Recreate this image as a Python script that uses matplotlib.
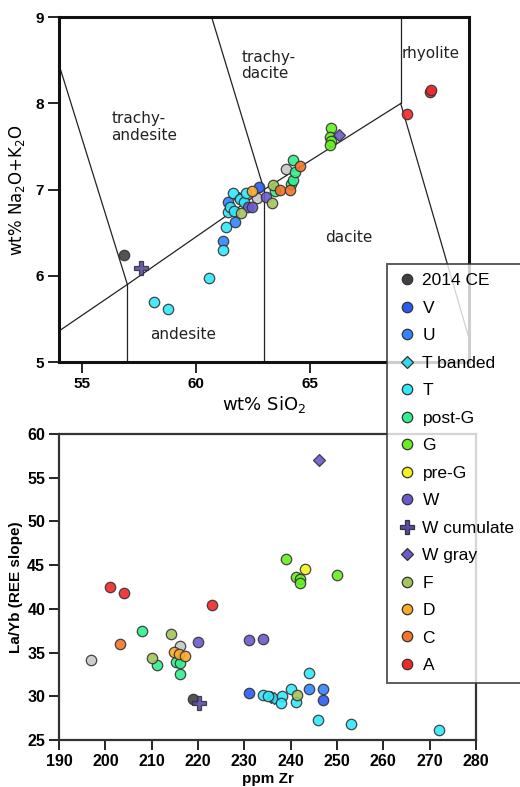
import matplotlib
matplotlib.use("Agg")
import matplotlib.pyplot as plt
from matplotlib.lines import Line2D

# groups, in legend order
groups = ["2014 CE", "V", "U", "T banded", "T", "post-G", "G", "pre-G",
          "W", "W cumulate", "W gray", "F", "D", "C", "A"]
colors = ["#404040", "#2a5cf5", "#3384ff", "#33d8f0", "#33e8fa", "#33ee8c",
          "#66ee22", "#f2f222", "#6a5acd", "#5a4aa8", "#6a5acd", "#a4c45c",
          "#fbaa2c", "#f3742a", "#f02828"]
markers = ["o", "o", "o", "D", "o", "o", "o", "o", "o", "P", "D", "o", "o", "o", "o"]

# TAS diagram: wt% SiO2 and wt% Na2O+K2O
sio2 = {
    "2014 CE": [56.85],
    "V": [62.8],
    "U": [61.2, 61.43, 61.72],
    "T banded": [61.9],
    "T": [58.17, 58.8, 60.6, 61.2, 61.35, 61.43, 61.5, 61.64, 61.94, 62.1, 62.23, 61.7],
    "post-G": [63.47, 64.2, 64.28, 64.35, 64.28],
    "G": [65.96, 65.9, 65.96, 65.9],
    "pre-G": [],
    "W": [62.3, 62.45, 63.08],
    "W cumulate": [57.58],
    "W gray": [66.3],
    "F": [62.0, 63.36, 63.4],
    "D": [62.45],
    "C": [63.7, 64.13, 64.6],
    "A": [69.28, 70.27, 70.32],
}
alk = {
    "2014 CE": [6.24],
    "V": [7.03],
    "U": [6.40, 6.86, 6.63],
    "T banded": [6.9],
    "T": [5.70, 5.62, 5.98, 6.30, 6.57, 6.74, 6.80, 6.96, 6.89, 6.86, 6.96, 6.75],
    "post-G": [6.99, 7.06, 7.11, 7.21, 7.35],
    "G": [7.72, 7.61, 7.56, 7.52],
    "pre-G": [],
    "W": [6.80, 6.80, 6.92],
    "W cumulate": [6.09],
    "W gray": [7.64],
    "F": [6.73, 6.85, 7.05],
    "D": [6.99],
    "C": [7.0, 7.0, 7.27],
    "A": [7.88, 8.13, 8.16],
}
gray_sio2 = [62.67, 63.96]
gray_alk = [6.90, 7.24]

# La/Yb vs ppm Zr
zr = {
    "2014 CE": [218.9],
    "V": [231.1, 247.0],
    "U": [244.0, 247.0],
    "T banded": [235.8, 236.3],
    "T": [234.1, 235.2, 238.1, 237.9, 240.0, 241.2, 244.0, 246.0, 253.1, 272.0],
    "post-G": [208.0, 211.1, 215.2, 216.1, 216.1],
    "G": [239.0, 241.1, 242.0, 242.0, 249.9],
    "pre-G": [243.1],
    "W": [220.1, 231.0, 234.1],
    "W cumulate": [220.2],
    "W gray": [246.05],
    "F": [210.0, 214.1, 241.3],
    "D": [214.8, 215.8, 217.2],
    "C": [203.2],
    "A": [201.0, 204.0, 223.1],
}
layb = {
    "2014 CE": [29.7],
    "V": [30.4, 29.55],
    "U": [30.8, 30.8],
    "T banded": [29.95, 29.8],
    "T": [30.2, 30.0, 30.0, 29.25, 30.8, 29.4, 32.7, 27.3, 26.85, 26.2],
    "post-G": [37.5, 33.6, 33.95, 33.8, 32.55],
    "G": [45.65, 43.7, 43.4, 43.0, 43.9],
    "pre-G": [44.6],
    "W": [36.2, 36.45, 36.5],
    "W cumulate": [29.2],
    "W gray": [57.0],
    "F": [34.4, 37.1, 30.2],
    "D": [35.1, 34.8, 34.6],
    "C": [36.0],
    "A": [42.55, 41.85, 40.5],
}
gray_zr = [197.0, 216.1]
gray_layb = [34.1, 35.75]

# TAS field boundaries
tas_lines = [
    ([54, 57, 63, 69], [5.36, 5.9, 7.0, 8.0]),
    ([57, 57], [5, 5.9]),
    ([63, 63], [5, 7.0]),
    ([53, 57], [9.3, 5.9]),
    ([63, 57.6], [7.0, 11.7]),
    ([69, 69], [8.0, 9.5]),
    ([69, 77.8], [8.0, 0.0]),
]
field_names = ["trachy-\nandesite", "trachy-\ndacite", "rhyolite", "andesite", "dacite"]
field_pos = [(56.3, 7.73), (62.0, 8.44), (69.05, 8.58), (58.0, 5.32), (65.7, 6.45)]

edge = "#333333"
bold_font = {"family": "Liberation Sans", "weight": "bold"}

fig = plt.figure(figsize=(5.2, 7.87), dpi=100)
ax1 = fig.add_axes([0.1135, 0.540, 0.7885, 0.438])
ax2 = fig.add_axes([0.1135, 0.0597, 0.8019, 0.3888])


def mk_size(m):
    if m == "D":
        return 6.5
    if m == "P":
        return 9.5
    return 7.5


# --- top: TAS ---
for xs, ys in tas_lines:
    ax1.plot(xs, ys, color="#222222", lw=0.9, zorder=1)
for name, (fx, fy) in zip(field_names, field_pos):
    ax1.text(fx, fy, name, fontsize=11, family="DejaVu Sans", va="center", ha="left",
             color="#222222", linespacing=1.15)

ax1.plot(gray_sio2, gray_alk, "o", ms=7.5, color="#c8c8c8", mec=edge, mew=0.9, alpha=0.9, zorder=3)
for g, c, m in zip(groups, colors, markers):
    ax1.plot(sio2[g], alk[g], m, ms=mk_size(m), color=c, mec=edge, mew=0.9, alpha=0.9, zorder=3)

ax1.set_xlim(54, 72)
ax1.set_ylim(5, 9)
ax1.set_xticks([55, 60, 65])
ax1.set_yticks([5, 6, 7, 8, 9])
ax1.set_xlabel("wt% SiO$_2$", fontsize=13, family="DejaVu Sans", labelpad=2)
ax1.set_ylabel("wt% Na$_2$O+K$_2$O", fontsize=12, family="DejaVu Sans", labelpad=6)
for s in ax1.spines.values():
    s.set_linewidth(2.2)
    s.set_color("#111111")
ax1.tick_params(direction="out", length=8, width=1.2, labelsize=11, pad=3)
for lab in ax1.get_xticklabels() + ax1.get_yticklabels():
    lab.set_fontproperties(bold_font)
    lab.set_fontsize(11)

# --- bottom: La/Yb vs Zr ---
ax2.plot(gray_zr, gray_layb, "o", ms=7.5, color="#c8c8c8", mec=edge, mew=0.9, alpha=0.9, zorder=3)
for g, c, m in zip(groups, colors, markers):
    ax2.plot(zr[g], layb[g], m, ms=mk_size(m), color=c, mec=edge, mew=0.9, alpha=0.9, zorder=3)

ax2.set_xlim(190, 280)
ax2.set_ylim(25, 60)
ax2.set_xticks(range(190, 281, 10))
ax2.set_yticks(range(25, 61, 5))
ax2.set_xlabel("ppm Zr", fontsize=11, fontdict=bold_font, labelpad=2)
ax2.set_ylabel("La/Yb (REE slope)", fontsize=11, fontdict=bold_font, labelpad=3)
for s in ax2.spines.values():
    s.set_linewidth(1.6)
    s.set_color("#333333")
ax2.tick_params(direction="out", length=7, width=1.2, pad=3)
for lab in ax2.get_xticklabels() + ax2.get_yticklabels():
    lab.set_fontproperties(bold_font)
    lab.set_fontsize(11.5)

# --- legend ---
handles = [Line2D([], [], marker=m, ls="none", ms=mk_size(m), color=c, mec=edge, mew=0.9)
           for c, m in zip(colors, markers)]
leg = fig.legend(handles, groups, loc="upper left", bbox_to_anchor=(0.744, 0.665),
                 frameon=True, fancybox=False, prop={"family": "Liberation Sans", "size": 12.5},
                 labelspacing=0.71, handletextpad=0.3, handlelength=1.2, borderpad=0.55,
                 borderaxespad=0)
leg.get_frame().set_edgecolor("#333333")
leg.get_frame().set_linewidth(1.4)
leg.set_zorder(10)

fig.savefig("out.png", dpi=100)
